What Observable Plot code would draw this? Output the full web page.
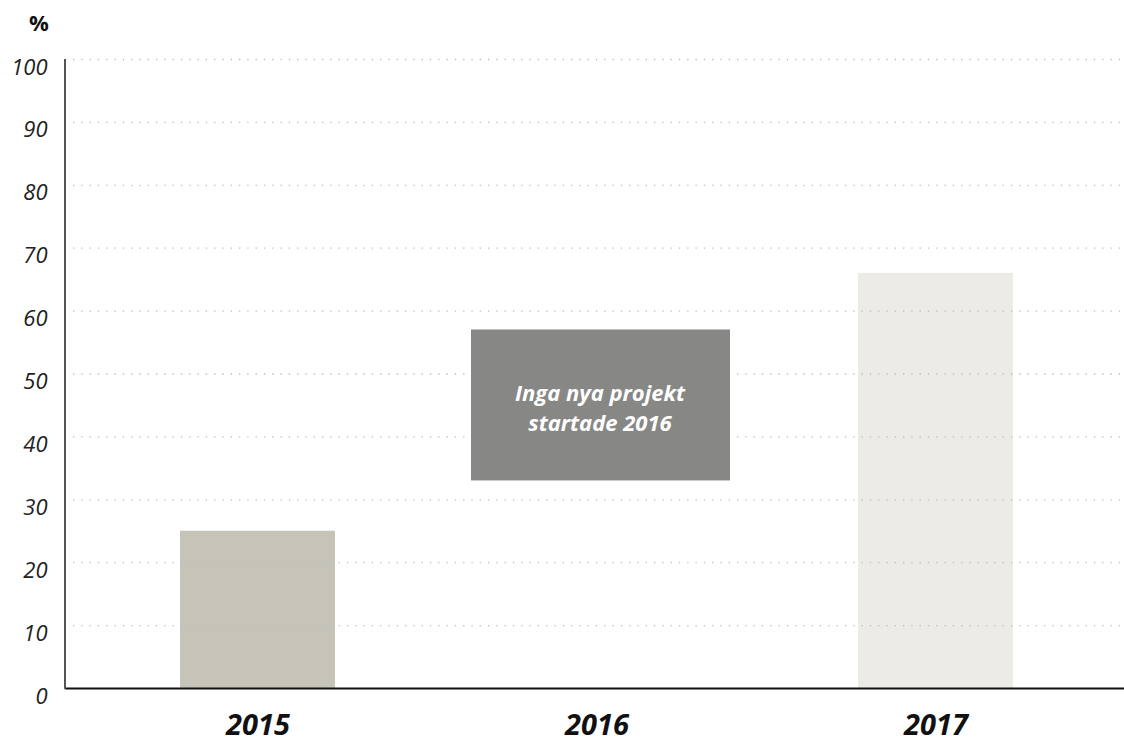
<!DOCTYPE html>
<html>
<head>
<meta charset="utf-8">
<script src="https://cdn.jsdelivr.net/npm/d3@7"></script>
<script src="https://cdn.jsdelivr.net/npm/@observablehq/plot@0.6"></script>
<style>
  html, body { margin: 0; padding: 0; background: #fff; }
  #chart svg { display: block; }
</style>
</head>
<body>
<div id="chart"></div>
<script>
const years = ["2015", "2016", "2017"];
const values = [25, null, 66];
const barColors = ["#c6c4b8", "#ffffff", "#ecebe6"];
const noteYear = "2016";
const noteRange = [33, 57];
const noteLines = ["Inga nya projekt", "startade 2016"];
const yTicks = [0, 10, 20, 30, 40, 50, 60, 70, 80, 90, 100];
const unitLabel = "%";

const bars = years.map((y, i) => ({year: y, value: values[i], color: barColors[i]})).filter(d => d.value != null);
const note = [{year: noteYear, y1: noteRange[0], y2: noteRange[1]}];
const noteText = [{year: noteYear, y: (noteRange[0] + noteRange[1]) / 2, text: noteLines.join("\n")}];

const font = "'Open Sans', Lato, sans-serif";

const chart = Plot.plot({
  width: 1124,
  height: 742,
  marginLeft: 65,
  marginRight: 0,
  marginTop: 59,
  marginBottom: 54,
  style: {fontFamily: font, background: "#fff", color: "#111"},
  x: {domain: years, range: [67, 1126], paddingInner: 0.543, paddingOuter: 0.333},
  y: {domain: [0, 100]},
  marks: [
    Plot.barY(bars, {x: "year", y: "value", fill: "color"}),
    Plot.gridY(yTicks.filter(t => t > 0), {stroke: "#bdbdbd", strokeOpacity: 1, strokeWidth: 1.3, strokeDasharray: "1.3,7", insetLeft: 8, insetRight: 2}),
    Plot.rectY(note, {x: "year", y1: "y1", y2: "y2", fill: "#878786", insetLeft: -48, insetRight: -56}),
    Plot.text(noteText, {x: "year", y: "y", text: "text", fill: "#fff", fontSize: 22, fontWeight: "bold", fontStyle: "italic", lineHeight: 1.36, dx: 3, dy: 1}),
    Plot.ruleY([0], {stroke: "#111", strokeWidth: 2}),
    Plot.axisY(yTicks, {tickSize: 0, tickPadding: 18, dy: 8, fontSize: 22, fontStyle: "italic", fill: "#222", label: null}),
    Plot.axisX({tickSize: 0, tickPadding: 26, fontSize: 29, fontWeight: "bold", fontStyle: "italic", fill: "#111", label: null})
  ]
});

// left axis line and unit label positioned from Plot's own y scale
const ys = chart.scale("y");
const svg = d3.select(chart);
svg.append("line")
  .attr("x1", 65).attr("x2", 65)
  .attr("y1", ys.apply(yTicks[yTicks.length - 1])).attr("y2", ys.apply(0) + 1)
  .attr("stroke", "#555").attr("stroke-width", 2);
svg.append("text")
  .attr("x", 39).attr("y", ys.apply(yTicks[yTicks.length - 1]) - 34)
  .attr("text-anchor", "middle").attr("dominant-baseline", "middle")
  .attr("font-family", font)
  .attr("font-size", 22).attr("font-weight", "bold").attr("fill", "#111")
  .text(unitLabel);

document.getElementById("chart").appendChild(chart);
</script>
</body>
</html>
